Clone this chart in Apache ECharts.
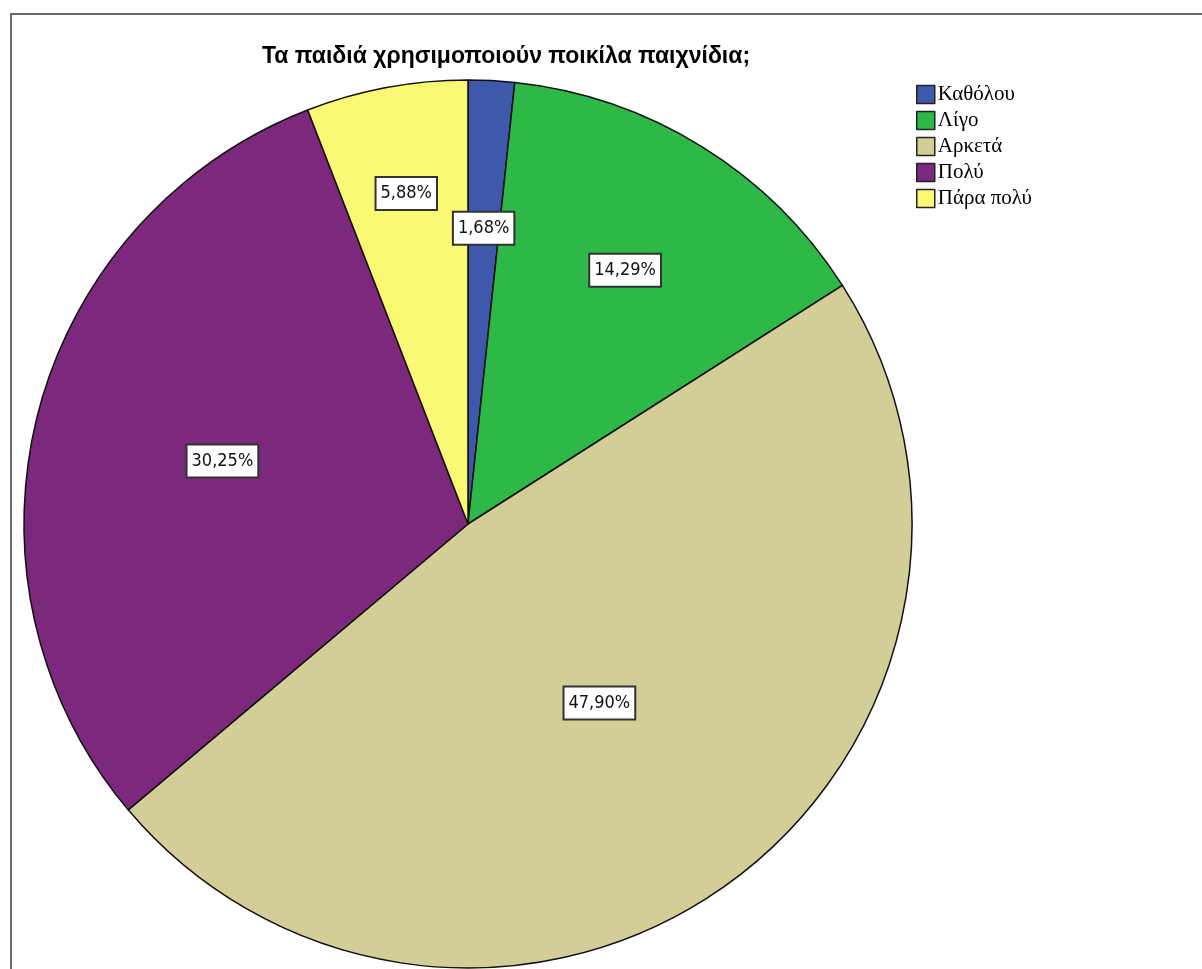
<!DOCTYPE html>
<html>
<head>
<meta charset="utf-8">
<script src="https://cdn.jsdelivr.net/npm/echarts@6/dist/echarts.min.js"></script>
<style>
  html, body { margin: 0; padding: 0; background: #fff; }
  #frame {
    position: absolute; left: 10px; top: 13px; width: 1300px; height: 1100px;
    border-left: 2px solid #6a6a6a; border-top: 2px solid #6a6a6a;
    box-sizing: border-box;
  }
  #chart { position: absolute; left: 0; top: 0; width: 1202px; height: 969px; }
</style>
</head>
<body>
<div id="frame"></div>
<div id="chart"></div>
<script>
// Answer categories and their shares (%)
const categories = ['Καθόλου', 'Λίγο', 'Αρκετά', 'Πολύ', 'Πάρα πολύ'];
const shares = [1.68, 14.29, 47.90, 30.25, 5.88];
const colors = ['#3E58AC', '#2EB848', '#D3CE97', '#7C287D', '#FBF873'];

const titleText = 'Τα παιδιά χρησιμοποιούν ποικίλα παιχνίδια;';

// Pie geometry
const cx = 468, cy = 524, R = 444;
// How far out along the radius each value box sits
const labelRadius = [0.667, 0.672, 0.50, 0.571, 0.757];

const total = shares.reduce((a, b) => a + b, 0);
function midAngle(i) {
  let before = 0;
  for (let k = 0; k < i; k++) before += shares[k];
  return ((before + shares[i] / 2) / total) * 2 * Math.PI;
}

const chart = echarts.init(document.getElementById('chart'), null, { renderer: 'canvas' });

chart.setOption({
  backgroundColor: 'transparent',
  animation: false,
  title: {
    text: titleText,
    left: 501,
    top: 40,
    textAlign: 'center',
    textStyle: {
      fontFamily: 'Liberation Sans, Arial, sans-serif',
      fontWeight: 'bold',
      fontSize: 23,
      color: '#000'
    }
  },
  legend: {
    orient: 'vertical',
    left: 916,
    top: 84,
    padding: 0,
    itemWidth: 18,
    itemHeight: 18,
    itemGap: 5,
    icon: 'rect',
    data: categories,
    itemStyle: { borderColor: '#222', borderWidth: 1.5 },
    textStyle: {
      fontFamily: 'Liberation Serif, Times New Roman, serif',
      fontSize: 21,
      lineHeight: 18,
      color: '#000',
      padding: [0, 0, 0, -2]
    }
  },
  series: [{
    type: 'pie',
    center: [cx, cy],
    radius: R,
    startAngle: 90,
    clockwise: true,
    avoidLabelOverlap: false,
    color: colors,
    itemStyle: { borderColor: '#111', borderWidth: 1.5 },
    label: {
      show: true,
      position: 'inside',
      formatter: p => shares[p.dataIndex].toFixed(2).replace('.', ',') + '%',
      fontFamily: 'DejaVu Sans Condensed, DejaVu Sans, Verdana, sans-serif',
      fontSize: 18,
      lineHeight: 20,
      color: '#111',
      backgroundColor: '#fff',
      borderColor: '#333',
      borderWidth: 2,
      padding: [6, 4, 5, 4]
    },
    labelLine: { show: false },
    labelLayout: p => {
      const i = p.dataIndex;
      const a = midAngle(i);
      const r = R * labelRadius[i];
      return { x: cx + r * Math.sin(a), y: cy - r * Math.cos(a), align: 'center', verticalAlign: 'middle' };
    },
    emphasis: { disabled: true },
    data: categories.map((c, i) => ({ name: c, value: shares[i] }))
  }]
});
</script>
</body>
</html>
